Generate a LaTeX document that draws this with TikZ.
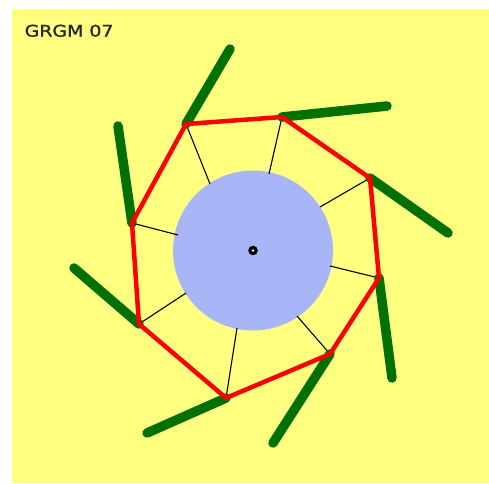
\documentclass[tikz,border=0pt]{standalone}
\usepackage{fontspec}
\setmainfont{DejaVu Sans}
\newfontfamily\lblfont[FakeBold=1.2]{DejaVu Sans}
\definecolor{bgyellow}{RGB}{255,255,128}
\definecolor{hubblue}{RGB}{168,182,248}
\definecolor{bladegreen}{RGB}{0,112,0}
\definecolor{rimred}{RGB}{255,0,0}
\begin{document}
\begin{tikzpicture}[x=1pt,y=-1pt,
  blade/.style={draw=bladegreen,line width=9.5pt,line cap=round},
  rim/.style={draw=rimred,line width=4.5pt,line join=miter},
  spoke/.style={draw=black,line width=1.1pt},
  lbl/.style={font=\lblfont\fontsize{16}{16}\selectfont,text=black!85,inner sep=0pt,anchor=north west,xscale=1.18}]
\useasboundingbox[fill=white] (0,0) rectangle (489,483);
\fill[bgyellow] (12,9) rectangle (489,483);
\node[lbl] (title) at (24.5,24.5) {GRGM 07};
% hub
\coordinate (c) at (253,250.5);
\fill[hubblue] (c) circle[radius=80];
% rim vertices
\coordinate (v1) at (186,124);
\coordinate (v2) at (282,117);
\coordinate (v3) at (370,178);
\coordinate (v4) at (379,278);
\coordinate (v5) at (330,354);
\coordinate (v6) at (226,398);
\coordinate (v7) at (139,324);
\coordinate (v8) at (132,223);
% spoke ends on hub
\coordinate (s1) at (210,184);
\coordinate (s2) at (269,174);
\coordinate (s3) at (320,207);
\coordinate (s4) at (330,266);
\coordinate (s5) at (297,316);
\coordinate (s6) at (237,328);
\coordinate (s7) at (186,293);
\coordinate (s8) at (178,235);
% blade tips
\coordinate (b1) at (230,49);
\coordinate (b2) at (387,106);
\coordinate (b3) at (448,233);
\coordinate (b4) at (392,378);
\coordinate (b5) at (273,443);
\coordinate (b6) at (147,433);
\coordinate (b7) at (74,268);
\coordinate (b8) at (118,126);
\foreach \i in {1,...,8} {\draw[spoke] (v\i) -- (s\i);}
\foreach \i in {1,...,8} {\draw[blade] (v\i) -- (b\i);}
\draw[rim] (v1) -- (v2) -- (v3) -- (v4) -- (v5) -- (v6) -- (v7) -- (v8) -- cycle;
\fill[black] (c) circle[radius=4.8];
\fill[white] (c) circle[radius=1.3];
\end{tikzpicture}
\end{document}
